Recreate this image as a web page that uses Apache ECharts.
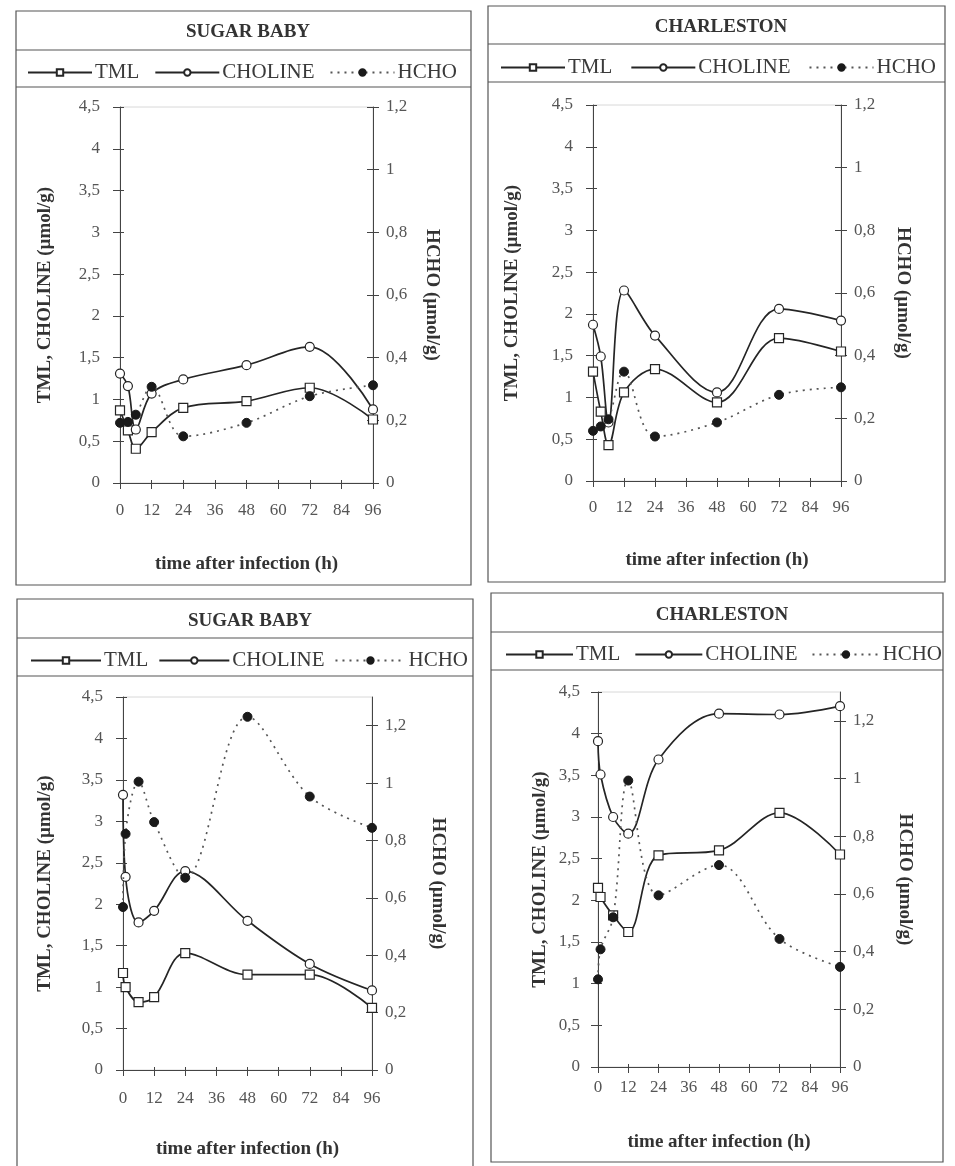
<!DOCTYPE html>
<html><head><meta charset="utf-8">
<script src="https://cdn.jsdelivr.net/npm/echarts@6/dist/echarts.min.js"></script>
<style>html,body{margin:0;padding:0;background:#fff}#c{width:955px;height:1166px}</style>
</head><body><div id="c"></div>
<script>
// ---------- data ----------
const panelTitles = ['SUGAR BABY', 'CHARLESTON', 'SUGAR BABY', 'CHARLESTON'];
const seriesNames = ['TML', 'CHOLINE', 'HCHO'];
const xAxisName = 'time after infection (h)';
const leftAxisName = 'TML, CHOLINE (µmol/g)';
const rightAxisName = 'HCHO (µmol/g)';

const hoursTop = [0, 3, 6, 12, 24, 48, 72, 96];
const hoursBottom = [0, 1, 6, 12, 24, 48, 72, 96];

const tmlSugarTop     = [0.87, 0.63, 0.41, 0.61, 0.90, 0.98, 1.14, 0.76];
const cholineSugarTop = [1.31, 1.16, 0.64, 1.07, 1.24, 1.41, 1.63, 0.88];
const hchoSugarTop    = [0.192, 0.195, 0.218, 0.307, 0.149, 0.192, 0.277, 0.312];

const tmlCharlTop     = [1.31, 0.83, 0.43, 1.06, 1.34, 0.94, 1.71, 1.55];
const cholineCharlTop = [1.87, 1.49, 0.70, 2.28, 1.74, 1.06, 2.06, 1.92];
const hchoCharlTop    = [0.160, 0.174, 0.197, 0.349, 0.142, 0.187, 0.275, 0.299];

const tmlSugarBottom     = [1.17, 1.00, 0.82, 0.88, 1.41, 1.15, 1.15, 0.75];
const cholineSugarBottom = [3.32, 2.33, 1.78, 1.92, 2.40, 1.80, 1.28, 0.96];
const hchoSugarBottom    = [0.568, 0.823, 1.005, 0.864, 0.670, 1.231, 0.953, 0.844];

const tmlCharlBottom     = [2.15, 2.04, 1.82, 1.62, 2.54, 2.60, 3.05, 2.55];
const cholineCharlBottom = [3.91, 3.51, 3.00, 2.80, 3.69, 4.24, 4.23, 4.33];
const hchoCharlBottom    = [0.304, 0.408, 0.519, 0.993, 0.595, 0.700, 0.444, 0.347];

const xTicks = [0, 12, 24, 36, 48, 60, 72, 84, 96];
const leftTicks = [0, 0.5, 1, 1.5, 2, 2.5, 3, 3.5, 4, 4.5];
const hchoTicks = [0, 0.2, 0.4, 0.6, 0.8, 1, 1.2];
const leftMax = 4.5;
const hchoMaxTop = 1.2;
const hchoMaxBottom = 1.3;

// ---------- layout (positions / styles) ----------
const FONT = "'Liberation Serif', 'DejaVu Serif', serif";
const INK = '#252525';
const panels = [
  { hours: hoursTop, tml: tmlSugarTop, cho: cholineSugarTop, hcho: hchoSugarTop, hMax: hchoMaxTop,
    grid: { left: 120, top: 107, width: 253, height: 376 },
    frame: { x: 16, y: 11, w: 455, h: 574 }, div: [50, 87],
    title: { x: 243, y: 18 }, legend: { left: 22, top: 57, w: 64, gap: 15 },
    gaps: { xl: 19, xn: 72, ll: 20, ln: 65, rl: 13, rn: 49 } },
  { hours: hoursTop, tml: tmlCharlTop, cho: cholineCharlTop, hcho: hchoCharlTop, hMax: hchoMaxTop,
    grid: { left: 593, top: 105, width: 248, height: 376 },
    frame: { x: 488, y: 6, w: 457, h: 576 }, div: [44, 82],
    title: { x: 716, y: 13 }, legend: { left: 495, top: 52, w: 64, gap: 18 },
    gaps: { xl: 18, xn: 70, ll: 20, ln: 71, rl: 13, rn: 52 } },
  { hours: hoursBottom, tml: tmlSugarBottom, cho: cholineSugarBottom, hcho: hchoSugarBottom, hMax: hchoMaxBottom,
    grid: { left: 123, top: 697, width: 249, height: 373 },
    frame: { x: 17, y: 599, w: 456, h: 590 }, div: [638, 676],
    title: { x: 245, y: 607 }, legend: { left: 25, top: 645, w: 70, gap: 10 },
    gaps: { xl: 20, xn: 70, ll: 20, ln: 68, rl: 13, rn: 56 } },
  { hours: hoursBottom, tml: tmlCharlBottom, cho: cholineCharlBottom, hcho: hchoCharlBottom, hMax: hchoMaxBottom,
    grid: { left: 598, top: 692, width: 242, height: 375 },
    frame: { x: 491, y: 593, w: 452, h: 569 }, div: [632, 670],
    title: { x: 717, y: 601 }, legend: { left: 500, top: 639, w: 67, gap: 14 },
    gaps: { xl: 12, xn: 66, ll: 18, ln: 48, rl: 13, rn: 55 } }
];

function fmt(v) { return String(Math.round(v * 10) / 10).replace('.', ','); }
function pairs(xs, ys) { return xs.map((x, i) => [x, ys[i]]); }

const option = {
  backgroundColor: '#fff',
  animation: false,
  title: [], legend: [], grid: [], xAxis: [], yAxis: [], series: [],
  graphic: { elements: [] }
};

const tickLine = { color: '#444', width: 1 };
const labelStyle = { fontFamily: FONT, fontSize: 17, color: '#555' };
const nameStyle = { fontFamily: FONT, fontSize: 19, fontWeight: 'bold', color: '#333' };

panels.forEach((p, i) => {
  option.grid.push(Object.assign({ show: true, borderColor: '#d8d8d8', borderWidth: 1, containLabel: false }, p.grid));

  option.title.push({
    text: panelTitles[i], left: p.title.x, top: p.title.y, textAlign: 'center',
    textStyle: { fontFamily: FONT, fontSize: 19, fontWeight: 'bold', color: '#333' }
  });

  option.legend.push({
    data: seriesNames, left: p.legend.left, top: p.legend.top,
    itemWidth: p.legend.w, itemHeight: 8, itemGap: p.legend.gap,
    selectedMode: false,
    textStyle: { fontFamily: FONT, fontSize: 21, color: '#3a3a3a', padding: [0, 0, 0, -2] }
  });

  option.xAxis.push({
    type: 'value', gridIndex: i, min: 0, max: 96, position: 'bottom',
    axisLine: { show: true, onZero: false, lineStyle: tickLine },
    axisTick: { show: true, length: 6, customValues: xTicks, lineStyle: tickLine },
    axisLabel: Object.assign({ customValues: xTicks, margin: p.gaps.xl }, labelStyle),
    splitLine: { show: false },
    name: xAxisName, nameLocation: 'middle', nameGap: p.gaps.xn, nameTextStyle: nameStyle
  });
  option.xAxis.push({
    type: 'value', gridIndex: i, min: 0, max: 96, position: 'bottom',
    axisLine: { show: false, onZero: false },
    axisTick: { show: true, inside: true, length: 3, customValues: xTicks, lineStyle: tickLine },
    axisLabel: { show: false }, splitLine: { show: false }
  });

  option.yAxis.push({
    type: 'value', gridIndex: i, min: 0, max: leftMax, position: 'left',
    axisLine: { show: true, onZero: false, lineStyle: tickLine },
    axisTick: { show: true, length: 7, customValues: leftTicks, lineStyle: tickLine },
    axisLabel: Object.assign({ customValues: leftTicks, margin: p.gaps.ll, formatter: fmt }, labelStyle),
    splitLine: { show: false },
    name: leftAxisName, nameLocation: 'middle', nameGap: p.gaps.ln, nameTextStyle: nameStyle
  });
  option.yAxis.push({
    type: 'value', gridIndex: i, min: 0, max: leftMax, position: 'left',
    axisLine: { show: false, onZero: false },
    axisTick: { show: true, inside: true, length: 4, customValues: leftTicks, lineStyle: tickLine },
    axisLabel: { show: false }, splitLine: { show: false }
  });
  option.yAxis.push({
    type: 'value', gridIndex: i, min: 0, max: p.hMax, position: 'right',
    axisLine: { show: true, onZero: false, lineStyle: tickLine },
    axisTick: { show: true, length: 6, customValues: hchoTicks, lineStyle: tickLine },
    axisLabel: Object.assign({ customValues: hchoTicks, margin: p.gaps.rl, formatter: fmt }, labelStyle),
    splitLine: { show: false },
    name: rightAxisName, nameLocation: 'middle', nameRotate: -90, nameGap: p.gaps.rn, nameTextStyle: nameStyle
  });
  option.yAxis.push({
    type: 'value', gridIndex: i, min: 0, max: p.hMax, position: 'right',
    axisLine: { show: false, onZero: false },
    axisTick: { show: true, inside: true, length: 6, customValues: hchoTicks, lineStyle: tickLine },
    axisLabel: { show: false }, splitLine: { show: false }
  });

  const xi = 2 * i, yl = 4 * i, yr = 4 * i + 2;
  option.series.push({
    name: 'TML', type: 'line', xAxisIndex: xi, yAxisIndex: yl, data: pairs(p.hours, p.tml),
    smooth: 0.35, symbol: 'rect', symbolSize: 9, showAllSymbol: true,
    lineStyle: { color: INK, width: 1.7 },
    itemStyle: { color: '#fff', borderColor: INK, borderWidth: 1.2 }, z: 3
  });
  option.series.push({
    name: 'CHOLINE', type: 'line', xAxisIndex: xi, yAxisIndex: yl, data: pairs(p.hours, p.cho),
    smooth: 0.35, symbol: 'circle', symbolSize: 9, showAllSymbol: true,
    lineStyle: { color: INK, width: 1.7 },
    itemStyle: { color: '#fff', borderColor: INK, borderWidth: 1.2 }, z: 3
  });
  option.series.push({
    name: 'HCHO', type: 'line', xAxisIndex: xi, yAxisIndex: yr, data: pairs(p.hours, p.hcho),
    smooth: 0.35, symbol: 'circle', symbolSize: 9, showAllSymbol: true,
    lineStyle: { color: '#555', width: 1.7, type: [2, 5] },
    itemStyle: { color: '#1a1a1a', borderColor: '#1a1a1a', borderWidth: 1 }, z: 4
  });

  const f = p.frame;
  const frameStyle = { stroke: '#555', lineWidth: 1.2, fill: null };
  option.graphic.elements.push({ type: 'rect', shape: { x: f.x, y: f.y, width: f.w, height: f.h }, style: frameStyle, silent: true });
  p.div.forEach(yy => option.graphic.elements.push({
    type: 'line', shape: { x1: f.x, y1: yy, x2: f.x + f.w, y2: yy }, style: { stroke: '#555', lineWidth: 1.2 }, silent: true
  }));
});

const chart = echarts.init(document.getElementById('c'), null, { renderer: 'canvas' });
chart.setOption(option);
</script>
</body></html>
